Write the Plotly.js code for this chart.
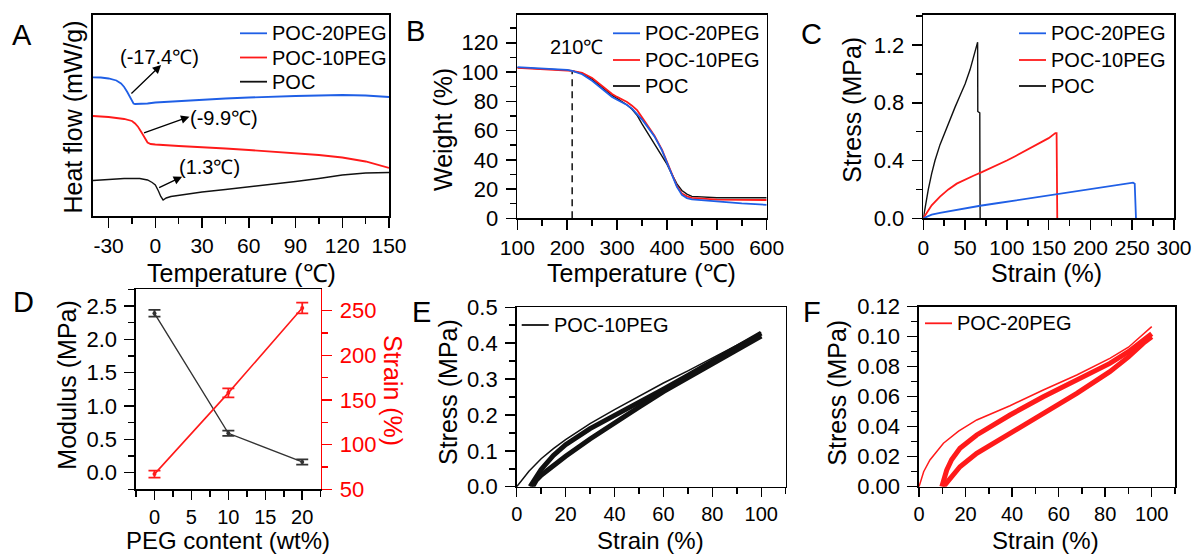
<!DOCTYPE html>
<html><head><meta charset="utf-8">
<script src="https://cdn.plot.ly/plotly-3.0.1.min.js"></script>
<style>html,body{margin:0;padding:0;background:#fff}#chart{width:1195px;height:556px}</style>
</head><body><div id="chart"></div>
<script>
// ---------- Panel A: DSC ----------
const dscTemp20 = [-40,-35,-30,-25,-22,-20,-18,-16,-15,-14,-13,-10,-5,0,10,20,30,45,60,75,90,105,120,135,150];
const dscHeat20 = [138.7,138.5,137.5,135.5,132.5,129,124,118,115,112.5,112,112,112.5,113.5,114.5,115.5,116.5,117.5,118.5,119.5,120,120.5,121,120.5,119];
const dscTemp10 = [-40,-30,-20,-15,-13,-11,-9,-7,-5,-3,0,15,30,45,60,75,90,105,120,135,150];
const dscHeat10 = [100,99,97,95,92.5,89,84,78,73.5,72,71.5,70,69,67.5,66,64.5,63,61,58.5,54.5,48];
const dscTemp0 = [-40,-30,-20,-10,-5,-2,0,2,3.5,5,7,10,20,30,45,60,75,90,105,120,135,150];
const dscHeat0 = [35.5,36.5,37.5,37.5,36,33.5,31,25,19.5,16,18,19.5,22,24,26.5,29,31.5,34.5,37.5,41,43,43.5];
const dscTicks = [-30,0,30,60,90,120,150];
const tgLabels = ['(-17.4℃)','(-9.9℃)','(1.3℃)'];

// ---------- Panel B: TGA ----------
const tgaTemp = [100,150,200,210,230,250,270,290,300,310,320,330,340,350,360,375,390,400,410,420,430,440,450,475,500,550,600];
const tga20 = [103.3,102.5,101.5,100.8,98.5,94,88.5,83,81,79.5,77.5,75,71.5,67.5,63,56,46.5,38.5,29.5,21.5,16,13.8,13,12.2,11.3,10.2,9.2];
const tga10 = [102.8,102,101,100.8,99.5,96,90.5,85,83,81.3,79.5,77,74,69,64,56.5,47,39,30.5,22,17,15,14,13.2,12.8,12.6,12.5];
const tga0 = [103,102.3,101.3,100.8,99,95,89.5,84,82,80,77.5,74.5,70.5,64.5,59,51.5,43,37,30,23.5,19,16.5,15,14.3,14,14,14];
const onsetTemp = [210,210];
const onsetWeight = [0,100];

// ---------- Panel C: tensile ----------
const strainPOC = [0,2,4,6,10,14,20,26,32,38,44,50,56,62,65,65.2,67.6,67.8,68];
const stressPOC = [0,0.07,0.14,0.2,0.31,0.4,0.51,0.6,0.69,0.77,0.85,0.93,1.03,1.15,1.22,0.74,0.73,0.3,0];
const strain10 = [0,5,10,20,30,40,50,60,70,80,90,100,110,120,130,140,150,158,159.5,160.3];
const stress10 = [0,0.05,0.09,0.15,0.2,0.24,0.27,0.295,0.32,0.345,0.37,0.4,0.43,0.46,0.49,0.52,0.555,0.59,0.59,0];
const strain20 = [0,5,10,20,26,46,68,90,126,160,205,227,241,247,251,253,254.5];
const stress20 = [0,0.015,0.025,0.038,0.044,0.069,0.087,0.106,0.138,0.168,0.208,0.229,0.243,0.247,0.247,0.24,0];

// ---------- Panel D: modulus / elongation ----------
const pegContent = [0,10,20];
const modulus = [2.39,0.59,0.16];
const modulusErr = [0.05,0.04,0.04];
const elongation = [67,158,253];
const elongationErr = [4,5,6];

// ---------- Panel E: cyclic POC-10PEG ----------
const eFirstStrain = [0,2,5,10,15,20,30,40,50,60,70,80,90,100];
const eFirstStress = [0,0.018,0.043,0.078,0.106,0.131,0.176,0.215,0.253,0.289,0.323,0.358,0.394,0.43];
const eReloadStrain = [5.5,7,10,15,20,30,40,50,60,70,80,90,100];
const eReloadStress = [0,0.018,0.048,0.087,0.117,0.162,0.198,0.236,0.272,0.31,0.35,0.39,0.428];
const eUnloadStrain = [100,90,80,70,60,50,40,30,20,15,10,8,6.5];
const eUnloadStress = [0.42,0.381,0.343,0.305,0.265,0.222,0.178,0.133,0.085,0.06,0.032,0.018,0];

// ---------- Panel F: cyclic POC-20PEG ----------
const fFirstStrain = [0,2,4.7,10.5,17,24.8,39.1,53.4,67.8,82,90,100];
const fFirstStress = [0,0.01,0.0178,0.029,0.037,0.0445,0.054,0.0645,0.0745,0.0856,0.093,0.1067];
const fReloadStrain = [9.8,11.9,14,17.6,24.8,32,39.1,53.4,67.8,82,90,100];
const fReloadStress = [0,0.011,0.018,0.0256,0.0345,0.0415,0.0478,0.06,0.0711,0.0822,0.09,0.102];
const fUnloadStrain = [100,96.3,90,82,67.8,53.4,39.1,24.8,17.6,11.9,10.5];
const fUnloadStress = [0.1,0.0956,0.0865,0.0767,0.0622,0.0489,0.0356,0.0222,0.0133,0.0033,0];

const seriesNames = ['POC-20PEG','POC-10PEG','POC'];
const BLUE = '#1f5fe6', RED = '#ff1a1a', BLACK = '#111111';
const seriesColors = [BLUE, RED, BLACK];

const FONT = 'Arial, "Liberation Sans", sans-serif';
const W = 1195, H = 556;
const fx = p => p / W, fy = p => 1 - p / H;

function ln(x, y, color, xa, ya, name, width) {
  return {x: x, y: y, type: 'scatter', mode: 'lines', name: name, showlegend: false,
    xaxis: xa, yaxis: ya, line: {color: color, width: width || 1.8}, hoverinfo: 'skip'};
}

const traces = [
  ln(dscTemp20, dscHeat20, BLUE, 'x', 'y', seriesNames[0]),
  ln(dscTemp10, dscHeat10, RED, 'x', 'y', seriesNames[1]),
  ln(dscTemp0, dscHeat0, BLACK, 'x', 'y', seriesNames[2], 1.4),
  ln(tgaTemp, tga0, BLACK, 'x2', 'y2', seriesNames[2], 1.4),
  ln(tgaTemp, tga10, RED, 'x2', 'y2', seriesNames[1]),
  ln(tgaTemp, tga20, BLUE, 'x2', 'y2', seriesNames[0]),
  Object.assign(ln(onsetTemp, onsetWeight, BLACK, 'x2', 'y2', 'onset', 1.5), {line: {color: BLACK, width: 1.5, dash: '7px,5px'}}),
  ln(strainPOC, stressPOC, BLACK, 'x3', 'y3', seriesNames[2], 1.4),
  ln(strain10, stress10, RED, 'x3', 'y3', seriesNames[1]),
  ln(strain20, stress20, BLUE, 'x3', 'y3', seriesNames[0]),
  {x: pegContent, y: modulus, type: 'scatter', mode: 'lines+markers', xaxis: 'x4', yaxis: 'y4', showlegend: false,
   name: 'Modulus', line: {color: '#333', width: 1.4}, marker: {color: '#333', size: 4},
   error_y: {type: 'data', array: modulusErr, visible: true, color: '#333', thickness: 1.8, width: 6}},
  {x: pegContent, y: elongation, type: 'scatter', mode: 'lines+markers', xaxis: 'x4', yaxis: 'y5', showlegend: false,
   name: 'Strain', line: {color: RED, width: 1.6}, marker: {color: RED, size: 4},
   error_y: {type: 'data', array: elongationErr, visible: true, color: RED, thickness: 1.8, width: 6}},
  ln(eReloadStrain, eReloadStress, BLACK, 'x5', 'y6', 'POC-10PEG', 5),
  ln(eUnloadStrain, eUnloadStress, BLACK, 'x5', 'y6', 'POC-10PEG', 5),
  ln(eFirstStrain, eFirstStress, BLACK, 'x5', 'y6', 'POC-10PEG', 1.5),
  ln(fReloadStrain, fReloadStress, RED, 'x6', 'y7', 'POC-20PEG', 5),
  ln(fUnloadStrain, fUnloadStress, RED, 'x6', 'y7', 'POC-20PEG', 5),
  ln(fFirstStrain, fFirstStress, RED, 'x6', 'y7', 'POC-20PEG', 1.5)
];

function ax(extra, minorDtick, isY, color) {
  const c = color || '#000';
  const base = {showline: true, linecolor: c, linewidth: 1.6, mirror: true, ticks: 'outside', ticklen: 10,
    tickwidth: 1.5, tickcolor: c, showgrid: false, zeroline: false, fixedrange: true,
    ticklabelstandoff: isY ? 3 : 0,
    tickfont: {family: FONT, size: isY ? 22 : 21, color: c},
    minor: {ticks: 'outside', ticklen: 6, tickwidth: 1.5, tickcolor: c, showgrid: false, dtick: minorDtick}};
  return Object.assign(base, extra);
}
const lowFont = {family: FONT, size: 20, color: '#000'};

const layout = {
  width: W, height: H, margin: {l: 0, r: 0, t: 0, b: 0},
  paper_bgcolor: '#fff', plot_bgcolor: 'rgba(0,0,0,0)', showlegend: false,
  font: {family: FONT, size: 20, color: '#000'},
  xaxis: ax({domain: [fx(93), fx(389)], anchor: 'y', range: [-40, 150], tickmode: 'array',
    tickvals: dscTicks, ticktext: dscTicks.map(String)}, 15, false),
  yaxis: ax({domain: [fy(216), fy(15)], anchor: 'x', range: [0, 201], ticks: '', showticklabels: false, minor: {ticks: ''}}, 0, true),
  xaxis2: ax({domain: [fx(517.3), fx(766.7)], anchor: 'y2', range: [100, 600], tick0: 0, dtick: 100}, 50, false),
  yaxis2: ax({domain: [fy(218.3), fy(15)], anchor: 'x2', range: [0, 139], tick0: 0, dtick: 20}, 10, true),
  xaxis3: ax({domain: [fx(923.3), fx(1174)], anchor: 'y3', range: [0, 300], tick0: 0, dtick: 50}, 25, false),
  yaxis3: ax({domain: [fy(218.3), fy(15)], anchor: 'x3', range: [0, 1.408], tick0: 0, dtick: 0.4, tickformat: '.1f'}, 0.2, true),
  xaxis4: ax({domain: [fx(136), fx(320.7)], anchor: 'y4', range: [-2.5, 22.5], tick0: 0, dtick: 5, ticklen: 9, tickfont: lowFont}, 2.5, false),
  yaxis4: ax({domain: [fy(489.3), fy(289.3)], anchor: 'x4', range: [-0.25, 2.75], tick0: 0, dtick: 0.5, tickformat: '.1f', mirror: false}, 0.25, true),
  yaxis5: ax({overlaying: 'y4', anchor: 'x4', side: 'right', range: [50, 274], tick0: 0, dtick: 50, mirror: false}, 25, true, '#ff0000'),
  xaxis5: ax({domain: [fx(516.7), fx(785.7)], anchor: 'y6', range: [0, 110], tick0: 0, dtick: 20, ticklen: 9, tickfont: lowFont}, 10, false),
  yaxis6: ax({domain: [fy(486.7), fy(307.3)], anchor: 'x5', range: [0, 0.5], tick0: 0, dtick: 0.1, tickformat: '.1f'}, 0.05, true),
  xaxis6: ax({domain: [fx(919), fx(1175)], anchor: 'y7', range: [0, 110], tick0: 0, dtick: 20, ticklen: 9, tickfont: lowFont}, 10, false),
  yaxis7: ax({domain: [fy(486.7), fy(306.7)], anchor: 'x6', range: [0, 0.12], tick0: 0, dtick: 0.02, tickformat: '.2f'}, 0.01, true),
  shapes: [],
  annotations: []
};
layout.xaxis.minor.tick0 = 0;

const A = layout.annotations, S = layout.shapes;
function txt(text, px, py, size, opts) {
  A.push(Object.assign({text: text, xref: 'paper', yref: 'paper', x: fx(px), y: fy(py), showarrow: false,
    xanchor: 'center', yanchor: 'middle', font: {family: FONT, size: size, color: '#000'}}, opts || {}));
}

// panel letters
[['A', 21.5, 35], ['B', 416, 31], ['C', 811.5, 34], ['D', 23, 301.7], ['E', 421, 312.5], ['F', 811.5, 311.7]]
  .forEach(p => txt(p[0], p[1], p[2], 29));

// axis titles
const TS = 25;
txt('Temperature (℃)', 241.5, 273, TS);
txt('Heat flow (mW/g)', 72, 117.5, TS, {textangle: -90});
txt('Temperature (℃)', 641, 273, TS);
txt('Weight (%)', 443, 130, TS, {textangle: -90});
txt('Strain (%)', 1046, 273, TS);
txt('Stress (MPa)', 851.7, 110, TS, {textangle: -90});
txt('PEG content (wt%)', 227.5, 540.5, 24);
txt('Modulus (MPa)', 66.7, 385, TS, {textangle: -90});
txt('Strain (%)', 393, 390, TS, {textangle: 90, font: {family: FONT, size: TS, color: '#ff0000'}});
txt('Strain (%)', 650, 540.5, 24);
txt('Stress (MPa)', 448, 392, TS, {textangle: -90});
txt('Strain (%)', 1045, 540.5, 24);
txt('Stress (MPa)', 836.7, 393, TS, {textangle: -90});

// legends (drawn manually)
function legend(xLine, rows, idx, names, colors) {
  idx.forEach((k, i) => {
    S.push({type: 'line', xref: 'paper', yref: 'paper', x0: fx(xLine), x1: fx(xLine + 27), y0: fy(rows[i]), y1: fy(rows[i]),
      line: {color: colors[k], width: 1.8}});
    txt(names[k], xLine + 30, rows[i], 20, {xanchor: 'left'});
  });
}
legend(240, [33.3, 57.5, 81.7], [0, 1, 2], seriesNames, seriesColors);
legend(613, [33.3, 60, 86], [0, 1, 2], seriesNames, seriesColors);
legend(1019, [33.3, 60, 86], [0, 1, 2], seriesNames, seriesColors);
legend(521.7, [325], [1], seriesNames, [BLACK, BLACK, BLACK]);
legend(925, [323.3], [0], seriesNames, [RED, RED, RED]);

// DSC Tg arrows and labels (data coordinates of panel A)
const arrows = [[-16.3, 121, 3.7, 151], [-8.2, 82.7, 21.9, 99.3], [1.5, 27.7, 17.2, 39.3]];
const labelPos = [[2.6, 159], [44.4, 97.7], [34.7, 49.3]];
arrows.forEach(a => A.push({xref: 'x', yref: 'y', axref: 'x', ayref: 'y', x: a[2], y: a[3], ax: a[0], ay: a[1], text: '',
  showarrow: true, arrowhead: 2, arrowsize: 1.3, arrowwidth: 1.3, arrowcolor: '#000'}));
labelPos.forEach((p, i) => A.push({xref: 'x', yref: 'y', x: p[0], y: p[1], text: tgLabels[i], showarrow: false,
  font: {family: FONT, size: 20, color: '#000'}}));
A.push({xref: 'x2', yref: 'y2', x: 219, y: 117.3, text: '210℃', showarrow: false, font: {family: FONT, size: 20, color: '#000'}});

Plotly.newPlot('chart', traces, layout, {staticPlot: true, displayModeBar: false});
</script></body></html>
